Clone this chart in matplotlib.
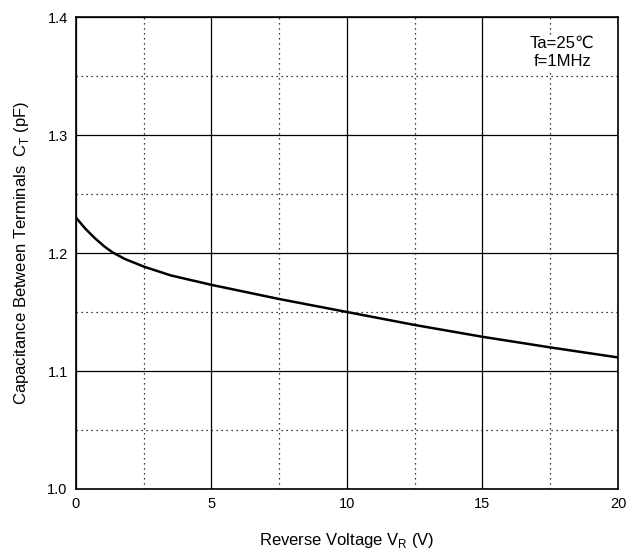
import matplotlib
matplotlib.use("Agg")
import matplotlib.pyplot as plt
import numpy as np

plt.rcParams['font.family'] = ['Liberation Sans', 'DejaVu Sans']

# reverse voltage (V) vs terminal capacitance (pF)
vr = [0, 0.15, 0.35, 0.7, 1.05, 1.35, 1.8, 2.5, 3.5, 5, 7.5, 10, 12.5, 15, 17.5, 20]
ct = [1.2300, 1.2259, 1.2205, 1.2125, 1.2055, 1.2005, 1.1950, 1.1885, 1.1810, 1.1730,
      1.1610, 1.1500, 1.1390, 1.1290, 1.1200, 1.1115]

x_major = [0, 5, 10, 15, 20]
y_major = [1.0, 1.1, 1.2, 1.3, 1.4]

fig = plt.figure(figsize=(6.28, 5.49), dpi=100)
ax = fig.add_axes([0.121, 0.1093, 0.863, 0.8597])

ax.plot(vr, ct, color='black', lw=1.8, zorder=3, solid_joinstyle='round')

ax.set_xlim(0, 20)
ax.set_ylim(1.0, 1.4)
ax.set_xticks(x_major)
ax.set_yticks(y_major)
ax.set_yticklabels([f"{v:.1f}" for v in y_major])
ax.set_xticks(np.arange(2.5, 20, 5), minor=True)
ax.set_yticks(np.arange(1.05, 1.4, 0.1), minor=True)
ax.tick_params(which='both', length=0, labelsize=10.5, pad=6)

ax.grid(which='major', color='black', lw=0.9, ls='-')
ax.grid(which='minor', color='black', lw=0.9, ls=(0, (1, 3)))
for s in ax.spines.values():
    s.set_linewidth(1.2)

ax.set_xlabel("Reverse Voltage V$_\\mathregular{R}$ (V)", fontsize=12, labelpad=14)
ax.set_ylabel("Capacitance Between Terminals  C$_\\mathregular{T}$ (pF)", fontsize=12, labelpad=12)

ax.text(0.897, 0.96, "Ta=25\u2103\nf=1MHz", transform=ax.transAxes,
        ha='center', va='top', fontsize=12, linespacing=1.3, zorder=4,
        bbox=dict(facecolor='white', edgecolor='none', pad=1))

fig.savefig("out.png", dpi=100)
